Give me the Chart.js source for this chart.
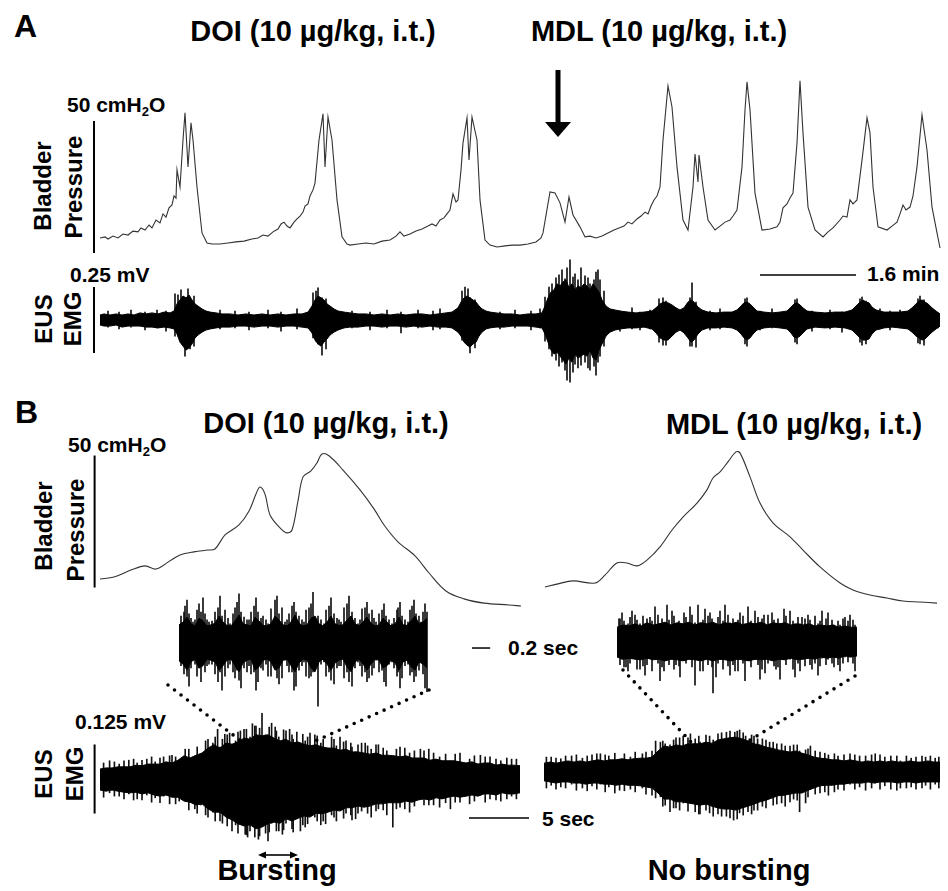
<!DOCTYPE html>
<html lang="en">
<head>
<meta charset="UTF-8" />
<title>DOI / MDL - bladder pressure and EUS EMG</title>
<script src="https://cdn.jsdelivr.net/npm/chart.js"></script>
<style>
  body { margin: 0; background: #fff; }
  #fig { position: relative; width: 948px; height: 891px; background: #fff; overflow: hidden; }
  .box { position: absolute; }
  .t { position: absolute; font-family: "Liberation Sans", Arial, sans-serif; font-weight: bold; color: #000; line-height: 1; white-space: nowrap; }
  .c { transform: translateX(-50%); }
  .r { transform: translate(-50%, -50%) rotate(-90deg); font-size: 24px; }
  sub { font-size: 0.62em; line-height: 0; vertical-align: -0.28em; }
  svg { position: absolute; left: 0; top: 0; }
</style>
</head>
<body>
<div id="fig">
  <!-- panel A -->
  <div class="t" style="left:14px;top:10px;font-size:32px">A</div>
  <div class="t c" style="left:313px;top:17px;font-size:29px">DOI (10 µg/kg, i.t.)</div>
  <div class="t c" style="left:659px;top:17px;font-size:29px">MDL (10 µg/kg, i.t.)</div>
  <div class="t" style="left:67px;top:94px;font-size:21px">50 cmH<sub>2</sub>O</div>
  <div class="t r" style="left:43px;top:186px">Bladder</div>
  <div class="t r" style="left:74px;top:187px">Pressure</div>
  <div class="t" style="left:70px;top:264px;font-size:21px">0.25 mV</div>
  <div class="t" style="left:867px;top:263px;font-size:21px">1.6 min</div>
  <div class="t r" style="left:44px;top:319px">EUS</div>
  <div class="t r" style="left:73px;top:319px">EMG</div>

  <!-- panel B -->
  <div class="t" style="left:15px;top:396px;font-size:32px">B</div>
  <div class="t c" style="left:326px;top:409px;font-size:29px">DOI (10 µg/kg, i.t.)</div>
  <div class="t c" style="left:794px;top:410px;font-size:29px">MDL (10 µg/kg, i.t.)</div>
  <div class="t" style="left:68px;top:434px;font-size:21px">50 cmH<sub>2</sub>O</div>
  <div class="t r" style="left:44px;top:526px">Bladder</div>
  <div class="t r" style="left:76px;top:530px">Pressure</div>
  <div class="t" style="left:508px;top:637px;font-size:21px">0.2 sec</div>
  <div class="t" style="left:75px;top:711px;font-size:21px">0.125 mV</div>
  <div class="t r" style="left:44px;top:774px">EUS</div>
  <div class="t r" style="left:75px;top:774px">EMG</div>
  <div class="t" style="left:542px;top:808px;font-size:21px">5 sec</div>
  <div class="t c" style="left:277px;top:856px;font-size:29px">Bursting</div>
  <div class="t c" style="left:729px;top:856px;font-size:29px">No bursting</div>

  <svg id="marks" width="948" height="891">
    <!-- drug arrow -->
    <line x1="558" y1="70" x2="558" y2="124" stroke="#000" stroke-width="5"/>
    <polygon points="545,122 571,122 558,137" fill="#000"/>
    <!-- zoom guides -->
    <g stroke="#000" stroke-width="3.6" stroke-linecap="round" stroke-dasharray="0 8.2">
      <line x1="168" y1="685" x2="254" y2="751"/>
      <line x1="429" y1="690" x2="313" y2="742"/>
      <line x1="623" y1="670" x2="692" y2="743"/>
      <line x1="855" y1="676" x2="747" y2="742"/>
    </g>
    <!-- bursting interval -->
    <line x1="264" y1="855" x2="292" y2="855" stroke="#000" stroke-width="1.6"/>
    <polygon points="258,855 266,851.5 266,858.5" fill="#000"/>
    <polygon points="298,855 290,851.5 290,858.5" fill="#000"/>
  </svg>
</div>

<script>
// ---------- A: bladder pressure (time s, pressure cmH2O) ----------
const tPressA = [0,5,8,13,18,23,28,33,38,41,
  45,49,52,56,60,63,66,69,72,74,
  76,77,80,83,85,88,91,93,97,102,
  107,112,120,128,136,144,152,158,163,168,
  173,178,181,184,187,190,194,197,200,203,
  205,208,210,213,215,219,223,225,228,232,
  237,242,247,250,258,266,274,282,290,296,
  300,304,310,316,322,328,332,336,340,344,
  347,350,353,356,358,361,363,367,369,372,
  377,380,385,390,397,405,412,420,428,436,
  441,443,450,455,460,465,469,473,480,485,
  490,496,502,508,514,519,524,528,532,537,
  541,545,548,551,554,557,560,563,568,572,
  577,583,588,593,595,598,599,603,608,615,
  620,625,630,633,637,642,645,647,650,655,
  662,670,677,680,683,687,690,693,697,700,
  703,708,715,723,728,733,740,743,747,750,
  753,757,762,767,770,773,778,787,792,797,
  800,803,806,810,813,817,822,827,832,837,
  840];
const pressA = [5.7,6.1,5.3,6.4,5.7,7.2,6.8,8.3,8.0,9.5,
  8.7,10.6,9.5,12.5,11.4,14.8,13.6,17.1,18.2,21.6,
  20.8,31.5,25.0,42.8,53.1,32.6,49.3,42.8,25.0,7.6,
  3.8,3.4,3.4,3.8,4.2,4.5,5.3,5.7,6.8,6.4,
  8.0,9.1,11.0,11.7,10.2,9.5,11.7,12.9,14.0,15.5,
  17.8,18.6,21.6,23.9,26.5,42.8,52.7,32.6,51.5,42.8,
  20.1,6.1,3.4,3.0,3.4,3.8,3.4,4.5,4.9,6.4,
  8.0,6.4,7.2,8.3,9.1,10.2,11.0,10.2,12.5,13.3,
  14.8,16.3,22.4,19.3,20.1,31.5,41.7,51.2,35.2,51.5,
  42.8,20.1,4.9,3.0,2.3,2.7,3.0,3.0,3.4,4.2,
  5.7,7.6,23.1,22.7,19.0,11.7,21.2,14.4,9.9,6.1,
  6.4,5.7,6.4,7.6,8.7,9.5,10.2,11.7,11.0,12.9,
  14.0,15.5,14.8,17.8,20.1,21.6,25.0,42.8,63.3,55.3,
  32.6,12.5,8.7,25.0,37.5,26.9,37.1,25.0,12.5,8.7,
  10.2,11.7,12.5,14.0,16.3,32.6,54.2,64.8,54.2,22.7,
  8.7,9.1,9.9,11.7,17.1,18.6,20.8,22.7,41.7,65.2,
  45.5,17.4,8.7,6.1,8.0,9.5,12.5,14.0,13.6,20.1,
  18.6,20.1,35.2,51.2,45.5,25.0,9.9,8.7,10.2,11.7,
  14.8,18.2,16.3,17.4,21.6,32.6,52.3,39.0,17.4,7.6,
  1.9];

// ---------- A: EUS EMG envelope (time s, µV) ----------
const tEmgA = [0,4,10,16,22,28,34,40,46,52,58,64,70,74,77,80,83,86,89,92,95,98,102,106,110,116,122,130,138,146,
  154,162,170,178,186,194,202,208,212,215,218,221,224,227,230,234,238,244,250,258,266,274,282,290,298,306,314,322,330,338,
  346,352,358,361,364,367,370,373,376,379,382,386,390,396,404,412,420,428,436,442,445,448,451,454,457,460,463,466,469,472,
  475,478,481,484,487,490,493,496,499,502,506,510,515,520,528,536,544,552,556,560,564,568,572,576,580,584,588,591,594,598,
  602,608,616,624,632,637,641,644,647,650,653,657,664,672,680,687,691,694,697,700,703,707,715,725,735,745,752,756,760,763,
  766,769,772,776,784,792,800,808,812,816,819,822,825,828,832,836,840];
const emgUpA = [19,23,19,23,19,23,19,27,23,27,23,30,27,34,61,76,91,84,95,76,61,53,42,34,30,27,23,23,19,23,
  19,23,19,23,19,23,23,30,53,76,91,84,76,61,53,42,34,30,27,23,23,19,23,19,23,19,23,23,19,23,
  27,30,46,68,84,91,84,76,68,53,42,34,30,27,23,23,19,23,23,27,53,84,106,114,137,129,144,152,122,137,
  114,129,122,137,129,114,137,122,106,76,53,42,38,34,30,27,30,34,46,61,68,65,57,46,38,46,68,76,68,49,
  38,30,27,30,30,38,53,65,68,61,49,34,30,27,30,34,49,61,65,57,46,34,30,27,30,30,38,53,68,76,
  68,65,49,38,30,30,30,34,46,61,72,76,68,61,46,34,23];
const emgLoA = [-19,-23,-23,-19,-27,-23,-23,-23,-27,-27,-30,-27,-30,-34,-53,-84,-99,-114,-106,-91,-68,-57,-46,-38,-34,-30,-27,-27,-23,-23,
  -27,-23,-23,-27,-23,-23,-27,-30,-49,-76,-91,-99,-84,-72,-57,-46,-38,-30,-27,-27,-23,-23,-27,-23,-23,-27,-23,-27,-23,-27,
  -27,-30,-46,-61,-84,-95,-103,-91,-84,-61,-46,-34,-30,-27,-27,-23,-23,-23,-27,-30,-53,-84,-114,-129,-122,-137,-152,-167,-144,-160,
  -129,-144,-137,-129,-137,-114,-144,-152,-114,-91,-61,-46,-38,-34,-30,-30,-27,-34,-49,-68,-76,-76,-61,-46,-38,-49,-68,-84,-76,-53,
  -38,-30,-30,-27,-30,-38,-53,-68,-76,-68,-53,-38,-30,-27,-30,-34,-49,-65,-68,-61,-49,-34,-27,-30,-27,-30,-38,-53,-68,-76,
  -76,-72,-53,-38,-30,-27,-30,-34,-46,-61,-68,-76,-72,-61,-46,-34,-23];
// single deflections poking out of the envelope
const spikeTA  = [78,81,85,88,216,218,222,365,368,370,445,449,456,462,467,470,475,478,485,490,496,500,504,563,592,647,697,762,820,
  8,19,31,45,57,66,120,135,149,168,181,197,252,270,287,301,318,333,340,400,415,431,440,520,532,540,550,610,620,660,
  672,712,730,742,780,790,800,830,838,75,90,94,213,226,362,375,452,459,465,473,481,488,494,498,559,566,590,596,645,695,
  760,766,818,824];
const spikeHiA = [95,114,84,118,110,122,84,125,118,84,87,125,160,190,198,228,175,152,167,137,182,152,110,84,141,84,80,87,91,
  34,30,38,30,38,34,38,34,30,38,30,42,34,30,38,30,38,34,42,30,38,34,42,34,46,30,38,34,42,34,
  42,34,38,30,42,34,38,30,27,99,76,91,103,80,110,76,137,171,156,163,198,160,152,190,80,72,84,68,80,76,
  80,72,80,76];
const spikeLoA = [-60,-84,-137,-99,-80,-91,-133,-84,-95,-125,-80,-110,-152,-160,-228,-236,-167,-182,-160,-190,-209,-137,-99,-95,-99,-99,-91,-95,-91,
  -27,-34,-27,-38,-30,-42,-34,-30,-38,-30,-42,-34,-30,-38,-30,-49,-30,-38,-34,-34,-30,-38,-30,-42,-34,-38,-34,-38,-34,-38,
  -30,-42,-34,-46,-34,-38,-30,-34,-30,-61,-110,-99,-68,-110,-76,-106,-137,-175,-190,-198,-171,-182,-175,-160,-84,-95,-99,-103,-91,-84,
  -84,-91,-87,-95];

// ---------- B: single voiding contractions (time s, cmH2O) ----------
const tPressDoi = [0,1.17,2.58,3.75,4.67,5.83,6.67,7.83,9.0,9.58,10.42,11.58,12.42,13.0,13.33,13.75,14.17,15.0,15.58,16.0,
  16.5,16.92,17.58,18.08,18.5,19.08,20.25,21.67,22.83,23.67,24.83,26.25,27.42,28.83,30.33,32.0,34.08,35.08];
const pressDoi = [10.2,11.0,13.6,15.2,14.0,17.1,19.3,20.5,21.2,21.6,26.9,30.7,36.0,42.4,45.1,42.4,34.5,29.6,27.7,28.8,
  39.8,48.9,51.2,54.2,57.6,56.9,51.5,44.0,36.8,30.7,24.3,19.0,12.5,5.7,2.7,1.1,0.4,0];
const tPressMdl = [0.08,1.08,2.42,4.25,5.08,6.08,6.92,7.75,8.58,9.67,10.67,11.58,12.75,13.58,14.08,14.67,15.33,16.0,16.33,17.17,
  18.0,19.08,20.5,21.58,23.0,24.67,25.75,27.17,28.58,29.92,31.33,32.75];
const pressMdl = [7.2,8.3,9.5,8.7,11.7,16.3,16.3,15.2,17.4,22.4,28.8,33.7,39.0,44.0,48.5,50.8,54.6,58.4,58.0,48.9,
  39.0,31.5,26.2,21.2,14.8,8.7,6.1,4.2,3.0,1.9,1.5,1.1];

// ---------- B: EMG envelopes during the contraction (time s, µV) ----------
const tEmgDoi = [0,0.5,1,1.5,2,2.5,3,3.5,4,4.5,5,5.5,6,6.5,7,7.5,8,8.5,9,9.5,10,10.5,11,11.5,12,12.5,13,13.5,14,14.5,
  15,15.5,16,16.5,17,17.5,18,18.5,19,19.5,20,20.5,21,21.5,22,22.5,23,23.5,24,24.5,25,25.5,26,26.5,27,27.5,28,28.5,29,29.5,
  30,30.5,31,31.5,32,32.5,33,33.5,34,34.5,35];
const emgUpDoi = [18,20,20,22,22,22,25,24,27,27,27,31,29,34,42,38,43,47,56,62,56,65,63,67,74,72,80,78,80,74,
  69,72,65,67,63,60,62,58,56,56,52,54,49,49,47,45,47,43,43,42,40,42,38,38,38,34,36,33,33,33,
  31,29,31,27,29,29,25,27,25,25,24];
const emgLoDoi = [-20,-22,-20,-22,-24,-25,-24,-27,-25,-29,-31,-29,-33,-33,-40,-42,-47,-45,-54,-60,-60,-69,-74,-81,-85,-83,-90,-87,-81,-78,
  -80,-72,-76,-71,-67,-69,-62,-63,-60,-56,-58,-52,-52,-49,-51,-49,-45,-45,-43,-43,-43,-40,-42,-38,-36,-38,-34,-36,-33,-31,
  -33,-31,-29,-31,-27,-27,-29,-25,-27,-27,-25];
const spikeTDoi  = [6.0,7.1,7.9,9.0,9.8,10.4,11.0,11.7,12.1,12.3,12.7,13.2,13.5,14.0,14.6,15.2,15.8,16.7,17.5,18.8,20.0,21.3,22.1,24.4,26.7,29.2,31.7,
  0.8,1.6,2.4,3.1,3.9,4.6,5.3,6.6,8.4,9.4,10.0,10.8,11.3,12.0,12.5,13.0,13.8,14.3,14.9,15.5,16.1,16.4,17.1,17.9,18.4,
  19.3,19.7,20.5,21.0,21.8,22.6,23.2,23.9,25.0,25.8,27.4,28.3,30.0,30.8,32.5,33.4,34.3];
const spikeHiDoi = [43,54,40,72,90,81,60,87,70,65,100,70,119,72,94,65,90,60,83,54,76,49,65,40,54,31,43,
  33,27,34,29,36,31,40,33,45,65,58,83,69,90,76,96,80,101,76,87,72,85,69,80,65,
  76,60,69,58,65,54,62,51,58,47,54,40,47,36,40,33,36];
const spikeLoDoi = [-29,-36,-54,-69,-54,-60,-94,-60,-100,-105,-70,-109,-80,-112,-76,-100,-70,-94,-63,-81,-54,-72,-47,-87,-36,-54,-29,
  -25,-31,-27,-36,-29,-34,-31,-40,-47,-60,-76,-65,-83,-76,-94,-87,-98,-80,-94,-80,-96,-72,-87,-69,-83,
  -65,-76,-62,-74,-58,-69,-54,-65,-51,-60,-47,-51,-42,-45,-36,-40,-31];
// short deflections along the band edge
const fineTDoi  = [0.3,1.2,2.0,2.8,3.5,4.3,5.0,5.8,6.3,7.4,8.1,8.8,9.6,10.2,10.6,11.5,12.2,12.9,13.3,14.1,
  14.7,15.3,16.0,16.9,17.3,18.1,18.6,19.5,20.3,20.9,21.5,22.3,23.0,23.6,24.7,25.4,26.2,27.0,27.8,28.8,
  29.6,31.2,32.1,33.0,33.9,34.7];
const fineHiDoi = [29,31,33,36,34,40,38,42,40,54,58,69,76,72,80,85,90,96,92,94,
  87,89,80,81,76,78,72,72,67,65,62,60,62,56,54,56,51,51,47,45,
  45,42,40,36,38,36];
const fineLoDoi = [-33,-31,-36,-38,-38,-42,-43,-45,-45,-56,-62,-65,-76,-80,-85,-98,-101,-105,-103,-96,
  -94,-92,-90,-83,-81,-76,-76,-69,-71,-65,-62,-62,-58,-56,-54,-54,-49,-47,-47,-43,
  -42,-40,-42,-38,-36,-36];

const tEmgMdl = [0,0.5,1,1.5,2,2.5,3,3.5,4,4.5,5,5.5,6,6.5,7,7.5,8,8.5,9,9.5,10,10.5,11,11.5,12,12.5,13,13.5,14,14.5,
  15,15.5,16,16.5,17,17.5,18,18.5,19,19.5,20,20.5,21,21.5,22,22.5,23,23.5,24,24.5,25,25.5,26,26.5,27,27.5,28,28.5,29,29.5,
  30,30.5,31,31.5,32,32.5,33];
const emgUpMdl = [16,18,16,18,20,18,20,18,20,22,20,22,22,24,22,24,25,25,27,38,47,45,49,47,51,51,51,54,52,58,
  60,62,63,60,56,51,49,45,43,40,38,36,38,34,31,27,25,24,22,22,20,22,20,18,20,18,20,18,20,18,
  18,20,18,18,20,18,18];
const emgLoMdl = [-16,-18,-20,-18,-18,-20,-20,-22,-20,-20,-22,-22,-24,-22,-24,-24,-25,-27,-29,-38,-49,-49,-54,-54,-56,-58,-60,-58,-62,-65,
  -67,-67,-69,-65,-62,-58,-54,-51,-47,-43,-42,-40,-38,-38,-33,-29,-25,-24,-24,-22,-22,-20,-20,-20,-18,-20,-18,-18,-18,-20,
  -18,-18,-20,-18,-18,-18,-18];
const spikeTMdl  = [4.7,6.3,9.7,10.5,12.2,13.0,14.1,15.8,15.9,16.8,17.0,18.8,21.3,22.2,25.5,27.6,29.7,
  0.6,1.4,2.3,3.2,4.0,5.4,7.2,8.2,9.3,10.1,11.0,11.6,12.6,13.5,14.5,15.2,16.3,17.5,18.2,19.4,20.1,20.8,21.8,23.0,
  23.7,24.5,26.3,28.4,30.6,31.8,32.6];
const spikeHiMdl = [33,22,54,49,69,54,58,63,72,65,56,54,38,47,33,33,20,
  27,24,29,25,31,29,27,33,56,51,62,65,60,67,69,72,76,65,60,51,47,49,40,36,
  31,29,29,27,25,27,25];
const spikeLoMdl = [-22,-33,-45,-72,-56,-76,-80,-87,-65,-60,-72,-47,-72,-31,-22,-20,-29,
  -24,-27,-22,-29,-25,-27,-31,-29,-47,-60,-65,-56,-72,-69,-76,-80,-74,-69,-62,-58,-62,-49,-56,-38,
  -42,-31,-27,-25,-27,-24,-22];
const fineTMdl  = [0.2,1.0,1.8,2.7,3.6,4.4,5.1,5.9,6.7,7.6,8.5,9.0,9.9,10.8,11.3,12.0,12.9,13.8,14.8,15.5,
  16.1,16.6,17.3,17.8,18.5,19.1,19.8,20.5,21.1,22.0,22.6,23.4,24.2,25.0,25.9,26.8,27.3,28.0,28.9,29.4,
  30.2,31.0,31.5,32.2,32.9];
const fineHiMdl = [27,25,29,31,29,33,31,34,33,36,36,38,56,58,62,62,65,65,71,74,
  74,71,67,60,58,54,51,47,49,42,38,34,33,31,31,29,31,31,29,29,
  29,27,29,29,27];
const fineLoMdl = [-29,-31,-29,-33,-34,-31,-36,-38,-34,-36,-40,-42,-62,-65,-69,-71,-76,-74,-80,-83,
  -85,-78,-76,-69,-65,-60,-56,-54,-51,-45,-40,-36,-36,-33,-31,-33,-29,-31,-31,-33,
  -29,-31,-29,-31,-29];

// ---------- B: expanded EMG insets (time ms, µV) ----------
const tInsetDoi = [0,44,88,132,176,220,264,308,352,396,440,484,528,572,616,660,704,748,792,836,880,924,968,1012,1056,1100,1144,1188,1232,1276,
  1320,1364,1408,1452,1496,1540,1584,1628,1672,1716,1760,1804,1848,1892,1936,1980,2024,2068,2112,2156,2200,2244,2288,2332,2376,2420,2464,2508,2552,2596,
  2640,2684,2728];
const insetUpDoi = [31,36,45,33,29,43,38,29,31,34,47,36,30,29,38,49,33,31,29,45,38,30,29,33,47,40,31,29,36,49,
  34,29,31,43,47,33,29,36,47,33,30,31,40,47,33,29,36,45,34,29,31,43,36,29,33,45,31,30,38,47,
  33,36,43];
const insetLoDoi = [-34,-40,-51,-36,-31,-47,-43,-31,-33,-36,-51,-43,-33,-31,-43,-54,-38,-33,-31,-51,-45,-33,-31,-36,-51,-47,-33,-31,-43,-54,
  -38,-31,-33,-47,-54,-36,-31,-40,-51,-38,-33,-31,-45,-54,-36,-31,-40,-51,-40,-31,-33,-47,-43,-33,-38,-51,-36,-33,-45,-51,
  -36,-40,-47];
const insetSpikeTDoi  = [66,88,110,154,220,242,264,330,429,451,473,561,638,660,682,748,825,847,869,979,
  1056,1078,1100,1166,1243,1265,1287,1375,1452,1474,1529,1595,1650,1672,1705,1782,1848,1870,1903,1969,
  2046,2068,2090,2167,2233,2255,2277,2343,2409,2431,2453,2519,2563,2585,2607,2662,2706,2728];
const insetSpikeHiDoi = [65,76,51,36,69,54,80,36,62,83,47,33,72,87,54,40,65,80,54,33,
  76,83,51,36,65,72,54,36,69,90,47,33,65,80,51,36,69,83,54,33,
  62,72,51,36,58,69,47,33,62,72,47,36,65,76,51,36,69,54];
const insetSpikeLoDoi = [-36,-62,-80,-33,-47,-72,-40,-40,-72,-54,-87,-40,-51,-69,-83,-54,-54,-87,-72,-62,
  -47,-65,-76,-33,-54,-87,-80,-36,-62,-54,-116,-36,-54,-69,-76,-43,-54,-72,-80,-36,
  -54,-72,-65,-33,-51,-72,-80,-36,-54,-83,-65,-40,-54,-72,-62,-33,-83,-90];
const insetFineTDoi  = [22,55,132,176,198,286,308,363,396,506,539,594,616,715,770,792,902,924,957,1012,
  1133,1188,1210,1320,1353,1397,1430,1562,1617,1738,1760,1815,1936,1991,2013,2123,2145,2200,2310,2365,
  2398,2486,2541,2640,2684];
const insetFineHiDoi = [47,54,43,40,58,51,40,38,54,58,43,51,62,45,40,54,43,47,40,60,
  62,40,51,47,40,58,62,40,58,43,40,62,43,40,60,58,43,51,40,43,
  58,40,58,47,54];
const insetFineLoDoi = [-43,-58,-47,-40,-62,-54,-43,-40,-58,-62,-47,-54,-65,-47,-43,-58,-47,-51,-40,-62,
  -65,-43,-54,-51,-43,-62,-65,-40,-62,-47,-43,-65,-47,-43,-62,-60,-47,-54,-40,-47,
  -62,-43,-60,-51,-58];

const tInsetMdl = [0,66,132,198,264,330,396,462,528,594,660,726,792,858,924,990,1056,1122,1188,1254,
  1320,1386,1452,1518,1584,1650,1716,1782,1848,1914,1980,2046,2112,2178,2244,2310,2376,2442,2508,2574,2640];
const insetUpMdl = [25,29,27,31,27,33,29,31,34,29,33,31,34,29,33,31,34,29,33,31,34,29,33,31,34,29,33,31,33,29,31,29,31,27,29,27,29,25,27,25,25];
const insetLoMdl = [-29,-33,-31,-33,-34,-31,-34,-33,-36,-33,-34,-36,-33,-34,-36,-33,-36,-33,-34,-36,-33,-34,-36,-33,-34,-33,-36,-33,-34,-31,-34,-33,-31,-33,-29,-31,-29,-31,-27,-29,-27];
const insetSpikeTMdl  = [55,121,198,308,418,473,605,693,803,913,968,1056,1133,1243,1353,1408,1518,1628,1705,1793,1903,2013,2101,2211,2321,2453,2563,
  22,99,165,253,363,517,550,649,737,858,891,1023,1089,1188,1298,1441,1573,1617,1749,1837,1958,2035,2145,2255,2387,2508,2618];
const insetSpikeHiMdl = [51,31,47,31,62,31,54,31,62,33,58,33,54,33,51,31,54,31,51,31,54,31,47,31,51,29,47,
  40,29,54,31,43,31,65,31,51,33,65,51,31,65,33,62,31,47,31,58,31,43,29,54,29,43,29];
const insetSpikeLoMdl = [-33,-54,-31,-62,-33,-72,-33,-65,-33,-54,-31,-94,-33,-62,-33,-72,-33,-58,-33,-69,-33,-54,-31,-62,-33,-54,-29,
  -29,-47,-31,-51,-31,-54,-33,-43,-33,-80,-33,-31,-65,-33,-54,-31,-69,-33,-51,-33,-65,-29,-51,-31,-47,-29,-54];
const insetFineTMdl  = [33,77,143,220,286,330,385,451,495,572,627,682,759,825,946,1001,1045,1111,1166,1221,
  1276,1331,1386,1474,1551,1595,1661,1727,1771,1859,1936,1991,2068,2123,2178,2233,2299,2365,2431,2486,
  2541,2596];
const insetFineHiMdl = [40,36,43,38,45,40,36,47,40,38,45,36,43,47,38,45,40,43,36,47,
  40,38,45,36,43,40,47,38,40,45,36,43,40,38,45,36,40,38,36,40,
  36,38];
const insetFineLoMdl = [-43,-47,-40,-51,-45,-43,-54,-40,-47,-43,-51,-45,-40,-47,-54,-43,-47,-40,-51,-45,
  -43,-54,-40,-47,-43,-51,-40,-45,-47,-43,-51,-40,-45,-43,-40,-45,-43,-40,-43,-40,
  -38,-40];

// scale bars drawn in data units of each chart
const scaleBars = {
  id: 'scaleBars',
  afterDatasetsDraw(chart, args, opts) {
    const ctx = chart.ctx, x = chart.scales.x, y = chart.scales.y;
    (opts.bars || []).forEach(b => {
      ctx.save();
      ctx.strokeStyle = '#000';
      ctx.lineWidth = b.w;
      ctx.beginPath();
      ctx.moveTo(x.getPixelForValue(b.x1), y.getPixelForValue(b.y1));
      ctx.lineTo(x.getPixelForValue(b.x2), y.getPixelForValue(b.y2));
      ctx.stroke();
      ctx.restore();
    });
  }
};

// place a canvas on the figure; x0/y0 = pixel of value 0, kx/ky = pixels per unit
function makeChart(g, datasets, bars) {
  const wrap = document.createElement('div');
  wrap.className = 'box';
  wrap.style.left = g.left + 'px';
  wrap.style.top = g.top + 'px';
  const cv = document.createElement('canvas');
  cv.width = g.width; cv.height = g.height;
  cv.style.width = g.width + 'px'; cv.style.height = g.height + 'px';
  wrap.appendChild(cv);
  document.getElementById('fig').insertBefore(wrap, document.getElementById('marks'));
  return new Chart(cv, {
    type: 'line',
    data: { datasets },
    options: {
      responsive: false,
      animation: false,
      events: [],
      layout: { padding: 0 },
      plugins: { legend: { display: false }, tooltip: { enabled: false }, scaleBars: { bars } },
      scales: {
        x: { type: 'linear', display: false, offset: false,
             min: (g.left - g.x0) / g.kx, max: (g.left + g.width - g.x0) / g.kx },
        y: { type: 'linear', display: false,
             min: (g.y0 - g.top - g.height) / g.ky, max: (g.y0 - g.top) / g.ky }
      }
    },
    plugins: [scaleBars]
  });
}

const pts = (xs, ys) => xs.map((t, i) => ({ x: t, y: ys[i] }));

function trace(xs, ys, smooth) {
  return [{ data: pts(xs, ys), borderColor: '#333', borderWidth: 1.1, pointRadius: 0, tension: smooth, fill: false }];
}

function emg(xs, up, lo, st, shi, slo) {
  return [
    { data: pts(xs, up), borderColor: '#000', borderWidth: 1, backgroundColor: '#000', pointRadius: 0, tension: 0, fill: '+1' },
    { data: pts(xs, lo), borderColor: '#000', borderWidth: 1, pointRadius: 0, tension: 0, fill: false },
    { type: 'bar', data: st.map((t, i) => ({ x: t, y: [slo[i], shi[i]] })), backgroundColor: '#111', barThickness: 1, borderWidth: 0 }
  ];
}

// A
makeChart({ left: 80, top: 60, width: 868, height: 205, x0: 100, kx: 1, y0: 253, ky: 2.64 },
  trace(tPressA, pressA, 0), [{ x1: -6, y1: 0, x2: -6, y2: 50, w: 2 }]);
makeChart({ left: 80, top: 250, width: 868, height: 145, x0: 100, kx: 1, y0: 320, ky: 1 / 3.79 },
  emg(tEmgA, emgUpA, emgLoA, spikeTA, spikeHiA, spikeLoA),
  [{ x1: -6, y1: -125, x2: -6, y2: 125, w: 2 }, { x1: 660, y1: 171, x2: 756, y2: 171, w: 1.5 }]);

// B, DOI
makeChart({ left: 80, top: 440, width: 460, height: 175, x0: 100, kx: 12, y0: 606, ky: 2.64 },
  trace(tPressDoi, pressDoi, 0.35), [{ x1: -0.45, y1: 7, x2: -0.45, y2: 57, w: 2 }]);
makeChart({ left: 80, top: 690, width: 470, height: 160, x0: 100, kx: 12, y0: 779, ky: 1 / 1.81 },
  emg(tEmgDoi, emgUpDoi, emgLoDoi, spikeTDoi.concat(fineTDoi), spikeHiDoi.concat(fineHiDoi), spikeLoDoi.concat(fineLoDoi)),
  [{ x1: -0.45, y1: -62.5, x2: -0.45, y2: 62.5, w: 2 }, { x1: 30.75, y1: -70.6, x2: 35.75, y2: -70.6, w: 1.5 }]);
makeChart({ left: 170, top: 585, width: 330, height: 130, x0: 179, kx: 1 / 11, y0: 642, ky: 1 / 1.81 },
  emg(tInsetDoi, insetUpDoi, insetLoDoi, insetSpikeTDoi.concat(insetFineTDoi),
      insetSpikeHiDoi.concat(insetFineHiDoi), insetSpikeLoDoi.concat(insetFineLoDoi)),
  [{ x1: 3223, y1: -10.9, x2: 3423, y2: -10.9, w: 1.5 }]);

// B, MDL
makeChart({ left: 530, top: 440, width: 418, height: 175, x0: 544, kx: 12, y0: 606, ky: 2.64 },
  trace(tPressMdl, pressMdl, 0.35), []);
makeChart({ left: 530, top: 690, width: 418, height: 160, x0: 544, kx: 12, y0: 772, ky: 1 / 1.81 },
  emg(tEmgMdl, emgUpMdl, emgLoMdl, spikeTMdl.concat(fineTMdl), spikeHiMdl.concat(fineHiMdl), spikeLoMdl.concat(fineLoMdl)), []);
makeChart({ left: 605, top: 585, width: 265, height: 130, x0: 617, kx: 1 / 11, y0: 641, ky: 1 / 1.81 },
  emg(tInsetMdl, insetUpMdl, insetLoMdl, insetSpikeTMdl.concat(insetFineTMdl),
      insetSpikeHiMdl.concat(insetFineHiMdl), insetSpikeLoMdl.concat(insetFineLoMdl)), []);
</script>
</body>
</html>
